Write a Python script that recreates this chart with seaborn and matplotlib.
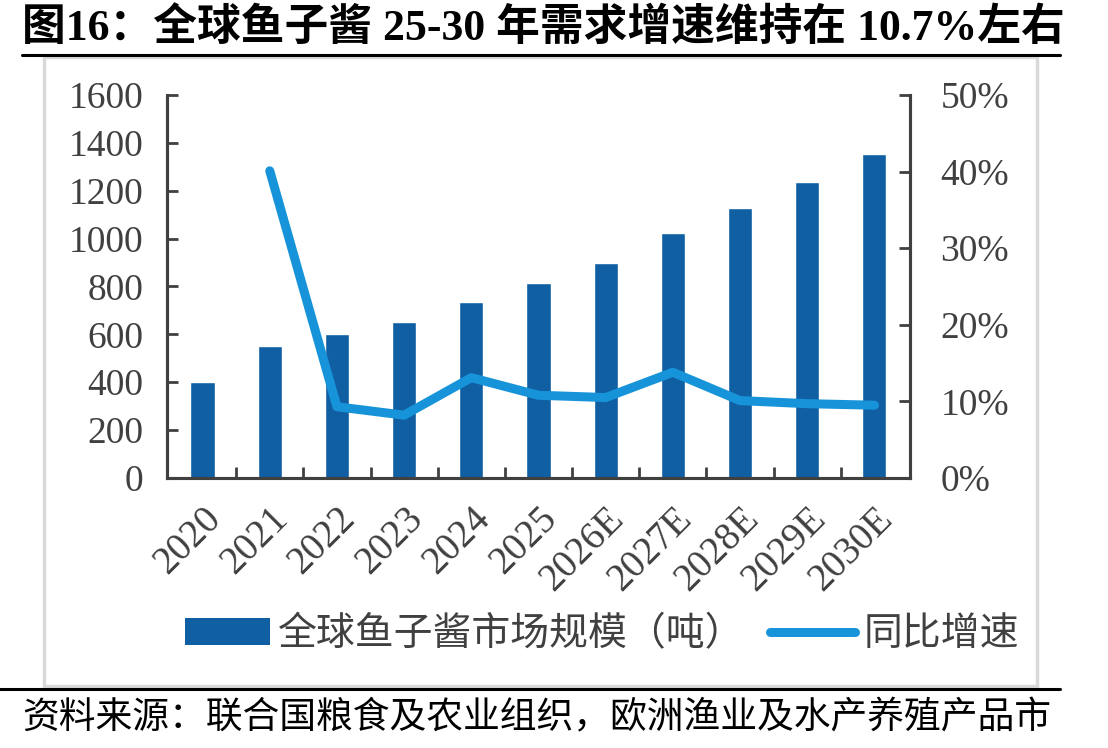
import numpy as np
import pandas as pd
import matplotlib
matplotlib.use("Agg")
import matplotlib.pyplot as plt
import seaborn as sns
from matplotlib.patches import Rectangle, Patch
from matplotlib.lines import Line2D

years = ["2020", "2021", "2022", "2023", "2024", "2025",
         "2026E", "2027E", "2028E", "2029E", "2030E"]
market_size = [400, 550, 600, 650, 735, 815, 898, 1023, 1128, 1236, 1354]
growth = [np.nan, 40.1, 9.3, 8.2, 13.1, 10.8, 10.5, 13.8, 10.1, 9.7, 9.5]

left_ticks = [0, 200, 400, 600, 800, 1000, 1200, 1400, 1600]
right_ticks = [0, 10, 20, 30, 40, 50]

bar_color = "#105FA3"
line_color = "#1794D9"
text_color = "#404040"

sns.set_style("white")
plt.rcParams['font.family'] = ['Liberation Serif', 'Noto Sans CJK SC', 'DejaVu Sans']
plt.rcParams['text.color'] = text_color
plt.rcParams['axes.labelcolor'] = text_color

df = pd.DataFrame({"year": years, "size": market_size, "growth": growth})

fig = plt.figure(figsize=(11.08, 7.48), dpi=100)
ax = fig.add_axes([0.1507, 0.361, 0.8213 - 0.1507, 0.873 - 0.361])

sns.barplot(data=df, x="year", y="size", color=bar_color, width=0.36,
            saturation=1, ax=ax)
ax.set_xlim(-0.53, len(years) - 0.47)
ax.set_ylim(0, 1600)
ax.set_yticks(left_ticks)
ax.set_xlabel("")
ax.set_ylabel("")

ax2 = ax.twinx()
pos = np.arange(len(years))
sns.lineplot(x=pos, y=df["growth"], color=line_color, linewidth=6.5,
             solid_capstyle="round", solid_joinstyle="round", ax=ax2)
ax2.set_ylim(0, 50)
ax2.set_yticks(right_ticks)
ax2.set_yticklabels([f"{t}%" for t in right_ticks])
ax2.set_ylabel("")
ax2.set_xlim(-0.53, len(years) - 0.47)

spine_color = "#404040"
for a in (ax, ax2):
    a.spines["top"].set_visible(False)
    for s in ("left", "right", "bottom"):
        a.spines[s].set_color(spine_color)
        a.spines[s].set_linewidth(2.2)

ax.set_xticks(np.arange(len(years) - 1) + 0.5, minor=True)
ax.set_xticks(pos)
ax.set_xticklabels(years, rotation=45, ha="right", rotation_mode="anchor")
ax.tick_params(axis="x", which="major", length=0, labelsize=28,
               labelcolor=text_color, pad=16)
ax.tick_params(axis="x", which="minor", direction="in", length=8,
               width=2, color=spine_color, bottom=True)
ax.tick_params(axis="y", direction="in", length=8, width=2,
               color=spine_color, labelsize=27, labelcolor=text_color, pad=17)
ax2.tick_params(axis="y", direction="in", length=8, width=2,
                color=spine_color, labelsize=27, labelcolor=text_color, pad=22)

handles = [Patch(facecolor=bar_color, edgecolor="none"),
           Line2D([0], [0], color=line_color, linewidth=6.5,
                  solid_capstyle="round")]
labels = ["全球鱼子酱市场规模（吨）", "同比增速"]
fig.legend(handles, labels, loc="center", bbox_to_anchor=(0.543, 0.152),
           ncol=2, frameon=False, prop={"family": ["Noto Sans CJK SC"], "size": 28},
           handlelength=2.2, handletextpad=0.2, columnspacing=0.65,
           labelcolor=text_color)

# outer frame and rules
fig.add_artist(Rectangle((44 / 1108, 1 - 686 / 748), (1037 - 44) / 1108,
                         (686 - 57) / 748, transform=fig.transFigure,
                         facecolor="none", edgecolor="#D9D9D9", linewidth=2.5))
fig.add_artist(Line2D([22 / 1108, 1060 / 1108], [1 - 55 / 748, 1 - 55 / 748],
                      transform=fig.transFigure, color="black", linewidth=2.2))
fig.add_artist(Line2D([0, 1060 / 1108], [1 - 689 / 748, 1 - 689 / 748],
                      transform=fig.transFigure, color="black", linewidth=2.2))

fig.text(22 / 1108, 1 - 28 / 748, "图16：全球鱼子酱 25-30 年需求增速维持在 10.7%左右",
         ha="left", va="center", fontsize=31.5, fontweight="bold", color="black",
         family=["Liberation Serif", "Noto Sans CJK SC"])
fig.text(22 / 1108, 1 - 718 / 748, "资料来源：联合国粮食及农业组织，欧洲渔业及水产养殖产品市",
         ha="left", va="center", fontsize=26.5, color="black",
         family=["Noto Sans CJK SC"])

fig.savefig("out.png", dpi=100)
